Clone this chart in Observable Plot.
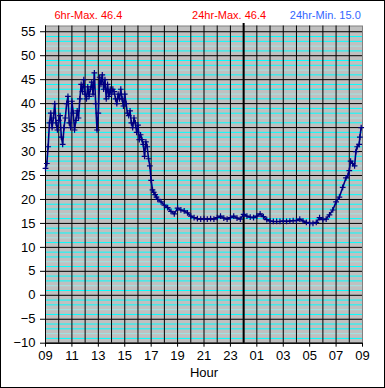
<!DOCTYPE html>
<html><head><meta charset="utf-8">
<script src="https://cdn.jsdelivr.net/npm/d3@7"></script>
<script src="https://cdn.jsdelivr.net/npm/@observablehq/plot@0.6"></script>
<style>
body{margin:0;background:#fff}
#chart svg{display:block;font-family:"Liberation Sans",Arial,sans-serif}
</style>
</head><body><div id="chart"></div>
<script>
// hours elapsed since 09:00 and temperature readings
const hours = [
  0.0,0.1,0.2,0.3,0.4,0.5,0.6,0.7,0.8,0.9,
  1.0,1.1,1.2,1.3,1.4,1.5,1.6,1.7,1.8,1.9,
  2.0,2.1,2.2,2.3,2.4,2.5,2.6,2.7,2.8,2.9,
  3.0,3.1,3.2,3.3,3.4,3.5,3.6,3.7,3.8,3.9,
  4.0,4.1,4.2,4.3,4.4,4.5,4.6,4.7,4.8,4.9,
  5.0,5.1,5.2,5.3,5.4,5.5,5.6,5.7,5.8,5.9,
  6.0,6.1,6.2,6.3,6.4,6.5,6.6,6.7,6.8,6.9,
  7.0,7.1,7.2,7.3,7.4,7.5,7.6,7.7,7.8,7.9,
  8.0,8.1,8.2,8.3,8.4,8.5,
  8.75,9.0,9.25,9.5,9.75,10.0,10.25,10.5,10.75,11.0,
  11.25,11.5,11.75,12.0,12.25,12.5,12.75,13.0,13.25,13.5,
  13.75,14.0,14.25,14.5,14.75,15.0,15.25,15.5,15.75,16.0,
  16.25,16.5,16.75,17.0,17.25,17.5,17.75,18.0,18.25,18.5,
  18.75,19.0,19.25,19.5,19.75,20.0,20.25,20.5,20.75,21.0,
  21.25,21.5,21.75,22.0,22.25,22.5,22.75,22.9,23.0,23.1,
  23.25,23.4,23.5,23.6,23.75,23.8,23.9
];
const temps = [
  26.5,27.5,31,36,38,35,37,40,36,34.5,
  36.5,37.5,33,31.5,35,37,40,41.5,36,35,
  40.5,38,34.5,36.5,38.5,37,41,44,42.5,45,
  42,41,43.5,41.5,43,44.5,42,46.4,40,34.5,
  38,45.5,44,46,43,45,41,44,41.5,43,
  42,43,42.5,41,40,42,41,43,41,39.5,
  42,40,38,37.5,38.5,36,35,37,36,34,
  35.5,32.5,33.5,32.5,31.5,29,32,31,28.5,27,
  24,22,21.5,21,20.5,20,
  19.5,18.8,18.3,17.5,17,18.2,17.8,17.6,17.2,16.5,
  16.2,16,15.9,16,15.9,16,15.9,16.2,16.5,16.1,
  15.9,16.2,16.5,16.1,15.9,16.9,16.5,16.3,16.2,16.5,
  17,16.4,15.8,15.5,15.4,15.4,15.4,15.5,15.4,15.5,
  15.6,15.6,15.9,15.5,15.2,15.0,15.0,15.2,16.2,15.8,
  15.9,16.8,17.8,19.5,20.5,22.5,24.5,25,26,28,
  27.5,27,30,31,31.5,33,35
];
const yTicks = [-10,-5,0,5,10,15,20,25,30,35,40,45,50,55];
const xTicks = [0,2,4,6,8,10,12,14,16,18,20,22,24];
const xTickLabels = ["09","11","13","15","17","19","21","23","01","03","05","07","09"];
const hourLines = d3.range(0, 24, 1);
const minorLines = d3.range(-9, 56, 1).filter(v => v % 5 !== 0);
const majorLines = yTicks;
const headerTexts = ["6hr-Max. 46.4", "24hr-Max. 46.4", "24hr-Min. 15.0"];
const axisTitle = "Hour";

const data = hours.map((h, i) => ({h, t: temps[i]}));

const chart = Plot.plot({
  width: 385,
  height: 388,
  marginLeft: 45,
  marginRight: 23,
  marginTop: 25.5,
  marginBottom: 45.3,
  style: {fontFamily: "'Liberation Sans', Arial, sans-serif", background: "#fff"},
  x: {domain: [0, 24], axis: null},
  y: {domain: [-10, 56.2], axis: null},
  marks: [
    Plot.frame({fill: "#c0c0c0", stroke: "#808080"}),
    Plot.ruleY(minorLines, {stroke: d => (((d % 5) + 5) % 5 === 2 ? "#9fe6e6" : "#00ffff"), strokeWidth: 1}),
    Plot.ruleY(majorLines, {stroke: "#000", strokeWidth: 1}),
    Plot.ruleX(hourLines, {stroke: "#000", strokeWidth: 1}),
    Plot.ruleX([15], {stroke: "#000", strokeWidth: 2, y1: -10, y2: 56.7}),
    Plot.ruleX([0], {stroke: "#000", strokeWidth: 1}),
    Plot.ruleY([-10], {stroke: "#000", strokeWidth: 1}),
    Plot.axisY({ticks: yTicks, tickSize: 5, tickPadding: 5, fontSize: 13, stroke: "#000", fill: "#000", label: null}),
    Plot.axisX({ticks: xTicks, tickSize: 4, tickPadding: 4, fontSize: 13, fill: "#000",
      tickFormat: (d) => xTickLabels[xTicks.indexOf(d)], label: null}),
    Plot.text([axisTitle], {frameAnchor: "bottom", dy: 34, lineAnchor: "bottom", fontSize: 13, fill: "#000", text: d => d}),
    Plot.line(data, {x: "h", y: "t", stroke: "#000080", strokeWidth: 1.6}),
    Plot.dot(data, {x: "h", y: "t", symbol: "plus", r: 2, stroke: "#000080", strokeWidth: 1.2}),
    Plot.text([headerTexts[0]], {x: 0.68, frameAnchor: "top", textAnchor: "start", lineAnchor: "bottom", dy: -7, fill: "#ff0000", fontSize: 11, text: d => d}),
    Plot.text([headerTexts[1]], {x: 11.1, frameAnchor: "top", textAnchor: "start", lineAnchor: "bottom", dy: -7, fill: "#ff0000", fontSize: 11, text: d => d}),
    Plot.text([headerTexts[2]], {x: 18.5, frameAnchor: "top", textAnchor: "start", lineAnchor: "bottom", dy: -7, fill: "#3366ff", fontSize: 11, text: d => d})
  ]
});

d3.select(chart).append("rect")
  .attr("x", 0.5).attr("y", 0.5).attr("width", 384).attr("height", 387)
  .attr("fill", "none").attr("stroke", "#000");

document.getElementById("chart").appendChild(chart);
</script>
</body></html>
